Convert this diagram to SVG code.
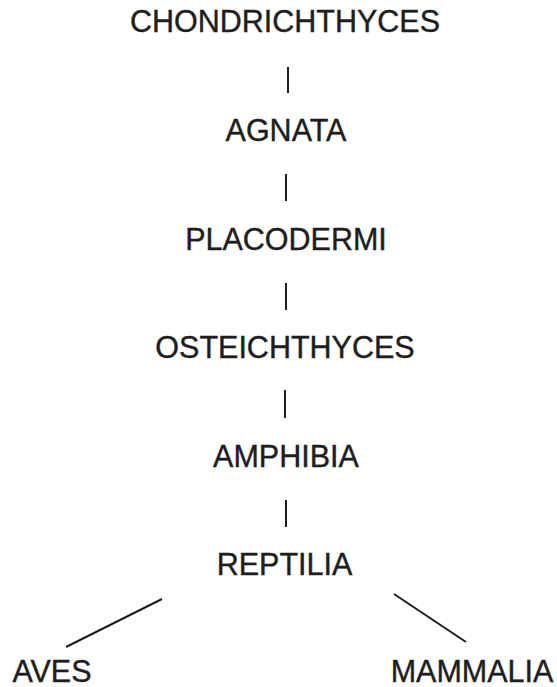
<svg xmlns="http://www.w3.org/2000/svg" width="557" height="687" viewBox="0 0 557 687">
<style>
text{font-family:"Liberation Sans",Arial,sans-serif;font-size:30.5px;fill:#1e1e1e;stroke:#1e1e1e;stroke-width:0.4;text-anchor:middle}
.c line{stroke:#1e1e1e;stroke-width:2;stroke-linecap:butt}
</style>
<rect width="557" height="687" fill="#fff"/>
<g id="chondrichthyces"><text x="285" y="32">CHONDRICHTHYCES</text></g>
<g id="agnata"><text x="286" y="141">AGNATA</text></g>
<g id="placodermi"><text x="286" y="250">PLACODERMI</text></g>
<g id="osteichthyces"><text x="285" y="358">OSTEICHTHYCES</text></g>
<g id="amphibia"><text x="286" y="467">AMPHIBIA</text></g>
<g id="reptilia"><text x="284.5" y="575">REPTILIA</text></g>
<g id="aves"><text x="52" y="682">AVES</text></g>
<g id="mammalia"><text x="472" y="682">MAMMALIA</text></g>
<g class="c" id="connectors">
<line x1="288" y1="67" x2="288" y2="93"/>
<line x1="286" y1="174" x2="286" y2="201"/>
<line x1="286" y1="283" x2="286" y2="310"/>
<line x1="285" y1="390" x2="285" y2="418"/>
<line x1="286" y1="500" x2="286" y2="527"/>
<line x1="162" y1="599" x2="66" y2="647"/>
<line x1="394" y1="594" x2="466" y2="642"/>
</g>
</svg>
